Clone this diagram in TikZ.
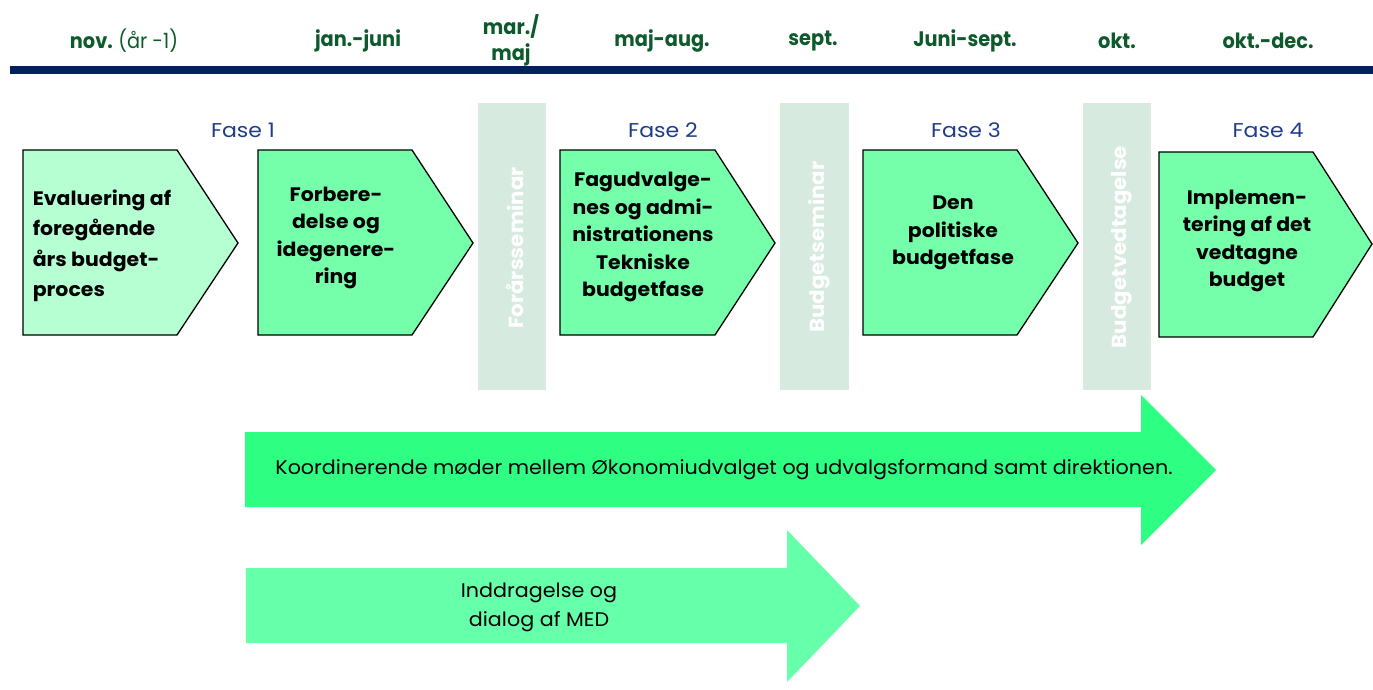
\documentclass[tikz,border=0pt]{standalone}
\usepackage{fontspec}
\setmainfont{Poppins}[FakeStretch=1.05]
\newfontfamily\hdrfont{Poppins}[FakeStretch=0.92]
\newfontfamily\fasefont{Poppins}[FakeStretch=1.1]
\definecolor{hdr}{HTML}{0E5A2C}
\definecolor{navy}{HTML}{002060}
\definecolor{fase}{HTML}{1F3C88}
\definecolor{boxa}{HTML}{B5FFD3}
\definecolor{boxb}{HTML}{75FFAA}
\definecolor{bar}{HTML}{D6EAE0}
\definecolor{arra}{HTML}{2EFF82}
\definecolor{arrb}{HTML}{66FFAA}
\tikzset{
  hdrtxt/.style={text=hdr,font=\hdrfont\bfseries\fontsize{21}{26}\selectfont,align=center,inner sep=0},
  fasetxt/.style={text=fase,font=\fasefont\fontsize{20}{22}\selectfont,inner sep=0},
  boxtxt/.style={text=black,font=\bfseries\fontsize{19.5}{27.5}\selectfont,align=center,inner sep=0},
  pent/.style={draw=black,line width=1.3pt,line join=miter},
  barstyle/.style={fill=bar,draw=none},
  bartxt/.style={text=white,font=\bfseries\fontsize{20.3}{22}\selectfont,rotate=90,inner sep=0},
  arrtxt/.style={text=black,font=\fontsize{19.7}{29}\selectfont,align=center,inner sep=0}
}
\begin{document}
\begin{tikzpicture}[x=1pt,y=-1pt]
\useasboundingbox (0,0) rectangle (1373,689);
% header
\node[hdrtxt] (h1) at (124,41) {nov. \mdseries(år -1)};
\node[hdrtxt] (h2) at (358,41) {jan.-juni};
\node[hdrtxt] (h3) at (511,40) {mar./\\maj};
\node[hdrtxt] (h4) at (662,41) {maj-aug.};
\node[hdrtxt] (h5) at (813,41) {sept.};
\node[hdrtxt] (h6) at (965,41) {Juni-sept.};
\node[hdrtxt] (h7) at (1117,41) {okt.};
\node[hdrtxt] (h8) at (1268,41) {okt.-dec.};
\fill[navy] (10,66) rectangle (1373,74);
% grey bars
\fill[barstyle] (478,103) rectangle (546,390);
\fill[barstyle] (780,103) rectangle (849,390);
\fill[barstyle] (1083,103) rectangle (1151,390);
\node[bartxt] (b1) at (515,248) {Forårsseminar};
\node[bartxt] (b2) at (819,247) {Budgetseminar};
\node[bartxt] (b3) at (1122,247) {Budgetvedtagelse};
% fase labels
\node[fasetxt] (f1) at (243,130) {Fase 1};
\node[fasetxt] (f2) at (663,130) {Fase 2};
\node[fasetxt] (f3) at (966,130) {Fase 3};
\node[fasetxt] (f4) at (1268,130) {Fase 4};
% pentagons
\draw[pent,fill=boxa] (23,150) -- (177,150) -- (238,243) -- (177,335) -- (23,335) -- cycle;
\draw[pent,fill=boxb] (258,150) -- (412,150) -- (473,243) -- (412,335) -- (258,335) -- cycle;
\draw[pent,fill=boxb] (560,150) -- (715,150) -- (775,243) -- (715,335) -- (560,335) -- cycle;
\draw[pent,fill=boxb] (863,150) -- (1017,150) -- (1078,243) -- (1017,335) -- (863,335) -- cycle;
\draw[pent,fill=boxb] (1159,152) -- (1313,152) -- (1372,244) -- (1313,337) -- (1159,337) -- cycle;
\node[boxtxt,align=left,font=\bfseries\fontsize{19.5}{30.5}\selectfont] (t1) at (102,246) {Evaluering af\\foregående\\års budget-\\proces};
\node[boxtxt] (t2) at (336,238) {Forbere-\\delse og\\idegenere-\\ring};
\node[boxtxt] (t3) at (643,237) {Fagudvalge-\\nes og admi-\\nistrationens\\Tekniske\\budgetfase};
\node[boxtxt] (t4) at (953,233) {Den\\politiske\\budgetfase};
\node[boxtxt] (t5) at (1247,241) {Implemen-\\tering af det\\vedtagne\\budget};
% arrows
\fill[arra] (245,432) -- (1141,432) -- (1141,395) -- (1216,470) -- (1141,545) -- (1141,507) -- (245,507) -- cycle;
\node[arrtxt] (a1) at (724,470) {Koordinerende møder mellem Økonomiudvalget og udvalgsformand samt direktionen.};
\fill[arrb] (246,568) -- (787,568) -- (787,530) -- (860,606) -- (787,682) -- (787,643) -- (246,643) -- cycle;
\node[arrtxt] (a2) at (539,607) {Inddragelse og\\dialog af MED};
\end{tikzpicture}
\end{document}
